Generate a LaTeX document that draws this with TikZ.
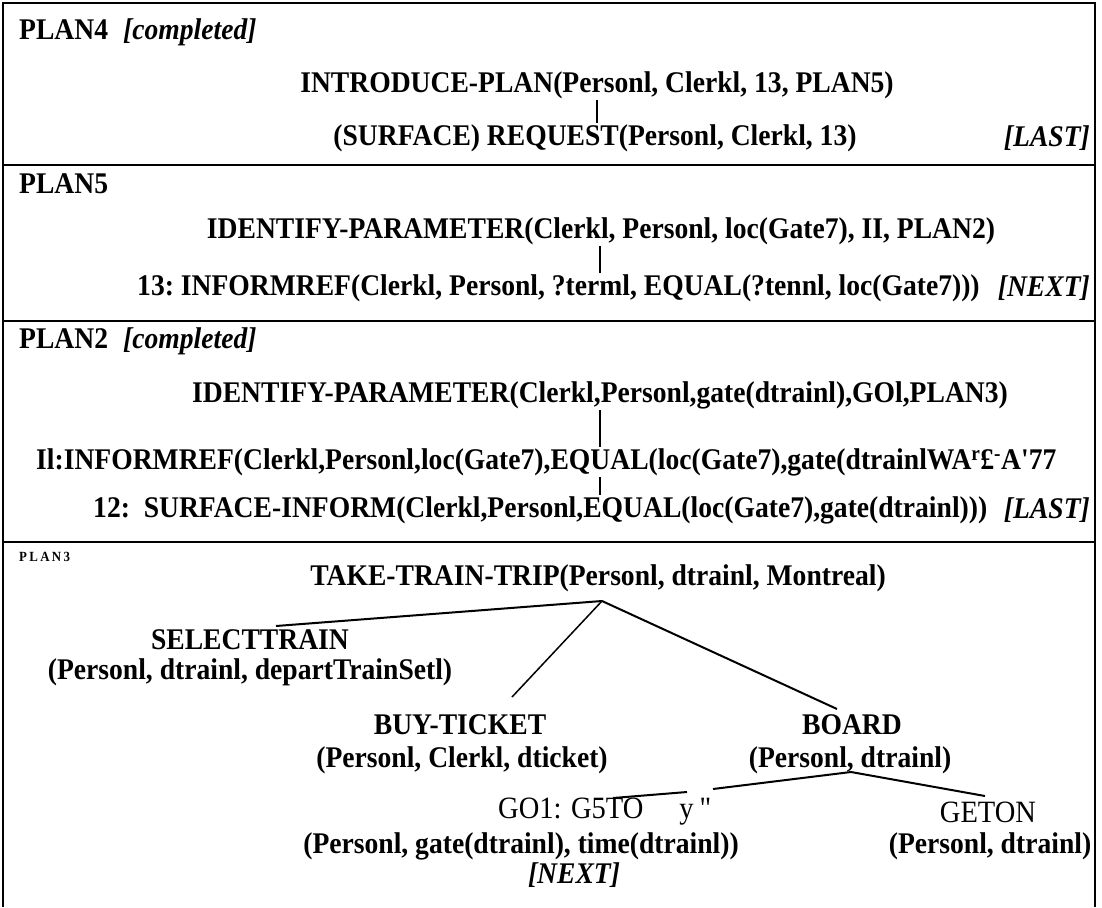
\documentclass[tikz,border=0pt]{standalone}
\usepackage{fontspec}
\setmainfont{Liberation Serif}[Ligatures=TeXOff, FakeStretch=0.92]
\tikzset{
  tx/.style={font=\fontsize{30}{32}\selectfont\bfseries, inner sep=1pt},
  txi/.style={font=\fontsize{30}{32}\selectfont\bfseries\itshape, inner sep=1pt},
  txr/.style={font=\fontsize{31}{33}\selectfont, inner sep=1pt},
  txs/.style={font=\fontsize{14}{15}\selectfont\bfseries, inner sep=1pt},
  frame/.style={line width=2pt},
  sep/.style={line width=2.6pt},
  link/.style={line width=1.5pt},
  tree/.style={line width=2pt}
}
\begin{document}
\begin{tikzpicture}[x=1pt,y=-1pt]
\useasboundingbox (0,0) rectangle (1102,907);
% frame
\draw[frame] (3,907) -- (3,3) -- (1095,3) -- (1095,907);
\draw[sep] (3,165) -- (1095,165);
\draw[sep] (3,321) -- (1095,321);
\draw[sep] (3,542) -- (1095,542);
% PLAN4
\node[tx,anchor=west] (p4) at (18,32) {PLAN4\hspace{15pt}\textit{[completed]}};
\node[tx] (intro) at (597,85) {INTRODUCE-PLAN(Personl, Clerkl,\ 13, PLAN5)};
\node[tx] (surf) at (595,138) {(SURFACE) REQUEST(Personl, Clerkl,\ 13)};
\node[txi,anchor=east] (last1) at (1091,138) {[LAST]};
\coordinate (v1) at (597,0);
\draw[link] (intro.south -| v1) -- (surf.north -| v1);
% PLAN5
\node[tx,anchor=west] (p5) at (18,184) {PLAN5};
\node[tx] (id1) at (601,231) {IDENTIFY-PARAMETER(Clerkl, Personl, loc(Gate7),\ II, PLAN2)};
\node[tx,anchor=west] (inf1) at (136,288) {13:\ INFORMREF(Clerkl, Personl, ?terml, EQUAL(?tennl, loc(Gate7)))};
\node[txi,anchor=east] (next1) at (1091,288) {[NEXT]};
\coordinate (v2) at (600,0);
\draw[link] (id1.south -| v2) -- (inf1.north -| v2);
% PLAN2
\node[tx,anchor=west] (p2) at (18,341) {PLAN2\hspace{15pt}\textit{[completed]}};
\node[tx] (id2) at (600,395) {IDENTIFY-PARAMETER(Clerkl,Personl,gate(dtrainl),GOl,PLAN3)};
\node[tx,anchor=west] (inf2) at (35,462) {Il:INFORMREF(Clerkl,Personl,loc(Gate7),EQUAL(loc(Gate7),gate(dtrainlWA\textsuperscript{r}£\textsuperscript{-}A'77};
\node[tx,anchor=west] (surf2) at (92,510) {12:\ \ SURFACE-INFORM(Clerkl,Personl,EQUAL(loc(Gate7),gate(dtrainl)))};
\node[txi,anchor=east] (last2) at (1091,510) {[LAST]};
\draw[link] (id2.south -| v2) -- (inf2.north -| v2);
\draw[link] (inf2.south -| v2) -- (surf2.north -| v2);
% PLAN3
\node[txs,anchor=west] (p3) at (18,557) {P\,L\,A\,N\,3};
\node[tx] (ttt) at (598,578) {TAKE-TRAIN-TRIP(Personl, dtrainl,\ Montreal)};
\node[tx] (sel) at (250,640) {SELECTTRAIN};
\node[tx] (selargs) at (250,672) {(Personl, dtrainl, departTrainSetl)};
\node[tx] (buy) at (460,725) {BUY-TICKET};
\node[tx] (buyargs) at (462,760) {(Personl, Clerkl, dticket)};
\node[tx] (board) at (852,725) {BOARD};
\node[tx] (boardargs) at (850,760) {(Personl, dtrainl)};
\node[txr,anchor=west] (go) at (497,812) {GO1: G5TO\hspace{36pt}y\hspace{6pt}"};
\node[tx] (goargs) at (521,846) {(Personl, gate(dtrainl), time(dtrainl))};
\node[txi] (gonext) at (574,875) {[NEXT]};
\node[txr] (geton) at (988,812) {GETON};
\node[tx] (getonargs) at (990,846) {(Personl, dtrainl)};
% tree connectors
\coordinate (root) at (602,601);
\coordinate (selend) at (276,626);
\coordinate (buyend) at (512,697);
\coordinate (boardend) at (837,709);
\coordinate (broot) at (851,772);
\coordinate (gaphi) at (713,789);
\coordinate (gaplo) at (687,792);
\coordinate (goend) at (613,798);
\coordinate (getonend) at (985,796);
\draw[tree] (root) -- (selend);
\draw[link] (root) -- (buyend);
\draw[tree] (root) -- (boardend);
\draw[tree] (broot) -- (gaphi);
\draw[tree] (gaplo) -- (goend);
\draw[tree] (broot) -- (getonend);
\end{tikzpicture}
\end{document}
